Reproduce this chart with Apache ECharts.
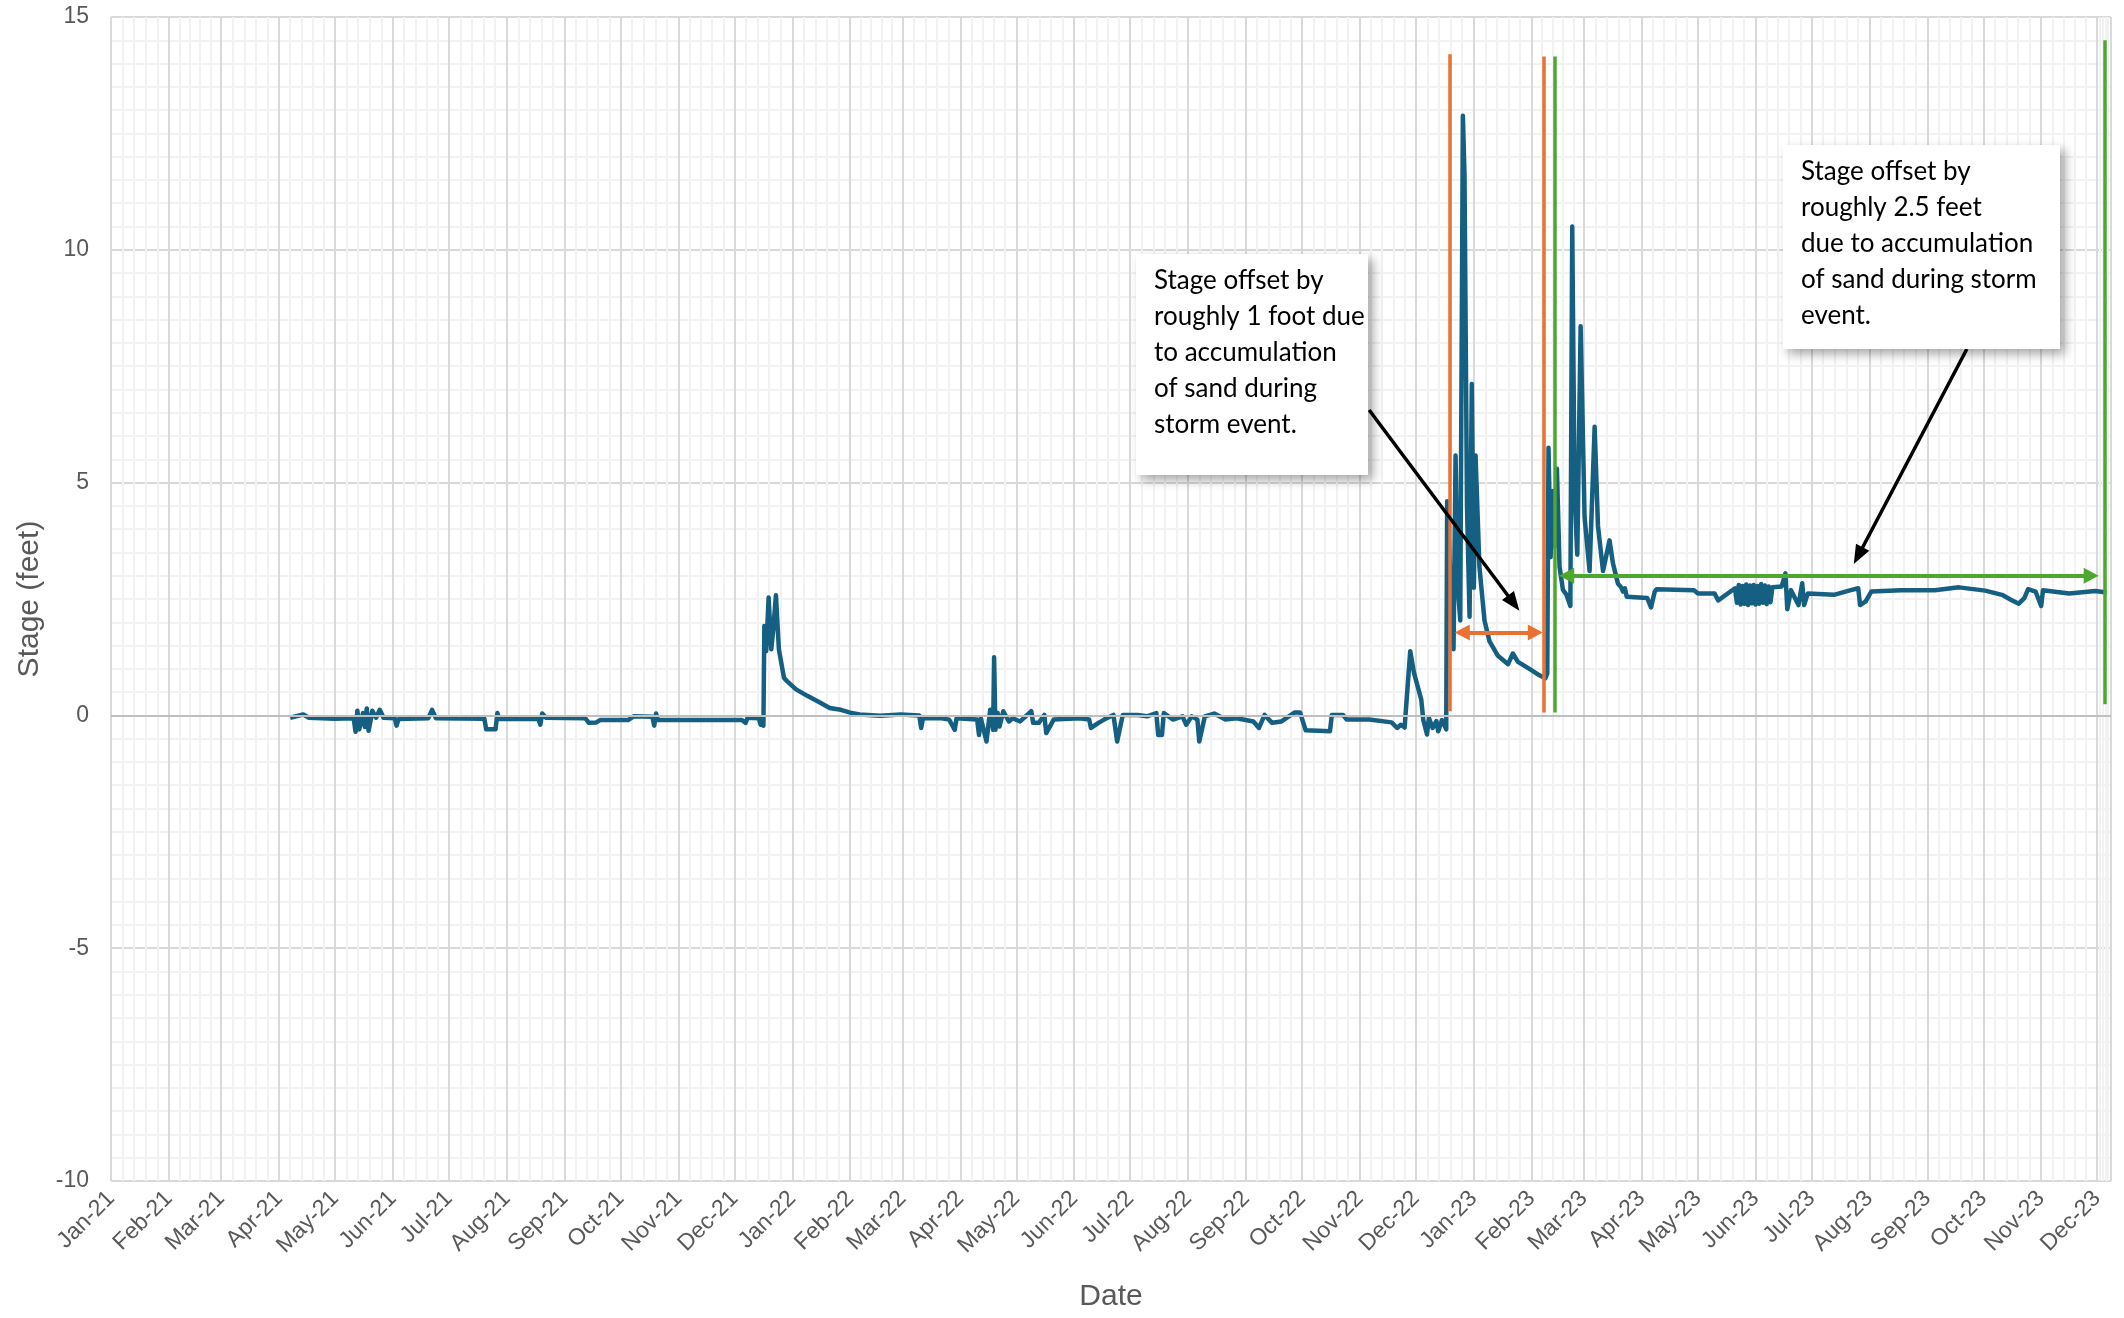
<!DOCTYPE html>
<html>
<head>
<meta charset="utf-8">
<script src="https://cdn.jsdelivr.net/npm/echarts@6/dist/echarts.min.js"></script>
<style>
  html, body { margin: 0; padding: 0; background: #fff; }
  #chart-wrapper { width: 2124px; height: 1318px; }
</style>
</head>
<body>
<div id="chart-wrapper"></div>
<script>
const monthNames = ['Jan', 'Feb', 'Mar', 'Apr', 'May', 'Jun', 'Jul', 'Aug', 'Sep', 'Oct', 'Nov', 'Dec']

// stage readings (feet)
const readings2021 = [
  ['2021-04-07', -0.05], ['2021-04-14', 0.02], ['2021-04-17', -0.05], ['2021-05-01', -0.07],
  ['2021-05-11', -0.06], ['2021-05-12', -0.35], ['2021-05-13', 0.1], ['2021-05-14', -0.3],
  ['2021-05-16', 0.05], ['2021-05-17', -0.25], ['2021-05-18', 0.15], ['2021-05-19', -0.33],
  ['2021-05-21', 0.1], ['2021-05-23', -0.05], ['2021-05-25', 0.12], ['2021-05-27', -0.05],
  ['2021-06-02', -0.06], ['2021-06-03', -0.22], ['2021-06-04', -0.08], ['2021-06-20', -0.06],
  ['2021-06-22', 0.12], ['2021-06-24', -0.06], ['2021-07-20', -0.07], ['2021-07-21', -0.3],
  ['2021-07-26', -0.3], ['2021-07-27', 0.05], ['2021-07-28', -0.08], ['2021-08-18', -0.08],
  ['2021-08-19', -0.2], ['2021-08-20', 0.04], ['2021-08-22', -0.05], ['2021-09-12', -0.06],
  ['2021-09-14', -0.16], ['2021-09-18', -0.15], ['2021-09-20', -0.1], ['2021-10-05', -0.1],
  ['2021-10-08', -0.02], ['2021-10-18', -0.03], ['2021-10-19', -0.22], ['2021-10-20', 0.04],
  ['2021-10-21', -0.1], ['2021-12-05', -0.1], ['2021-12-07', -0.16], ['2021-12-08', -0.05],
  ['2021-12-14', -0.06], ['2021-12-15', -0.2], ['2021-12-16 00:00', -0.05], ['2021-12-16 12:00', -0.22],
  ['2021-12-17 00:00', 1.92], ['2021-12-18 00:00', 1.38], ['2021-12-19 07:00', 2.53], ['2021-12-20 17:00', 1.42],
  ['2021-12-21 19:00', 1.85], ['2021-12-23 05:00', 2.58], ['2021-12-24 19:00', 1.42], ['2021-12-27 12:00', 0.81],
  ['2021-12-29', 0.74]
]

const readings2022 = [
  ['2022-01-03', 0.56], ['2022-01-09', 0.42], ['2022-01-16', 0.27], ['2022-01-21', 0.16],
  ['2022-01-27', 0.12], ['2022-02-01', 0.06], ['2022-02-06', 0.02], ['2022-02-17', -0.01],
  ['2022-02-28', 0.02], ['2022-03-05', 0.01], ['2022-03-10', 0], ['2022-03-11', -0.27],
  ['2022-03-12', -0.06], ['2022-03-22', -0.06], ['2022-03-26', -0.09], ['2022-03-29', -0.31],
  ['2022-03-30', -0.06], ['2022-04-10', -0.09], ['2022-04-11', -0.42], ['2022-04-12', -0.06],
  ['2022-04-15', -0.56], ['2022-04-17', 0.12], ['2022-04-18 14:00', -0.31], ['2022-04-19 02:00', 1.25],
  ['2022-04-19 19:00', -0.31], ['2022-04-21', 0.05], ['2022-04-22', -0.24], ['2022-04-24', 0.09],
  ['2022-04-27', -0.13], ['2022-04-29', -0.06], ['2022-05-03', -0.13], ['2022-05-06', -0.02],
  ['2022-05-09', 0.09], ['2022-05-10', -0.16], ['2022-05-13', -0.16], ['2022-05-16', 0.01],
  ['2022-05-17', -0.38], ['2022-05-21', -0.09], ['2022-06-04', -0.06], ['2022-06-09', -0.09],
  ['2022-06-10', -0.27], ['2022-06-14', -0.16], ['2022-06-17', -0.09], ['2022-06-22', 0.01],
  ['2022-06-24', -0.56], ['2022-06-27', 0.01], ['2022-07-05', 0.01], ['2022-07-10', -0.02],
  ['2022-07-15', 0.05], ['2022-07-16', -0.42], ['2022-07-18', -0.42], ['2022-07-19', 0.05],
  ['2022-07-24', -0.09], ['2022-07-29', -0.02], ['2022-07-31', -0.2], ['2022-08-03', -0.02],
  ['2022-08-06', -0.09], ['2022-08-07', -0.56], ['2022-08-10', -0.02], ['2022-08-15', 0.04],
  ['2022-08-21', -0.09], ['2022-08-27', -0.06], ['2022-09-05', -0.13], ['2022-09-08', -0.27],
  ['2022-09-11', 0.01], ['2022-09-15', -0.16], ['2022-09-20', -0.13], ['2022-09-27', 0.06],
  ['2022-09-30', 0.06], ['2022-10-03', -0.32], ['2022-10-16', -0.34], ['2022-10-17', 0.01],
  ['2022-10-23', 0.01], ['2022-10-25', -0.09], ['2022-11-06', -0.09], ['2022-11-18', -0.15],
  ['2022-11-21', -0.27], ['2022-11-23', -0.2], ['2022-11-25', -0.26], ['2022-11-28', 1.38],
  ['2022-11-30', 0.92], ['2022-12-03 22:00', 0.34], ['2022-12-05', -0.1], ['2022-12-07', -0.41],
  ['2022-12-08', -0.05], ['2022-12-10', -0.27], ['2022-12-12', -0.12], ['2022-12-13', -0.34],
  ['2022-12-15', -0.1], ['2022-12-17 07:00', -0.3], ['2022-12-17 19:00', 4.6], ['2022-12-21 05:00', 1.42],
  ['2022-12-22 07:00', 5.58], ['2022-12-23 12:00', 2.74], ['2022-12-24 19:00', 2.04], ['2022-12-26 05:00', 12.88],
  ['2022-12-27 02:00', 11.6], ['2022-12-28 10:00', 4.5], ['2022-12-29 19:00', 2.12], ['2022-12-31 00:00', 7.12]
]

const readings2023 = [
  ['2023-01-01 02:00', 2.74], ['2023-01-02 00:00', 5.58], ['2023-01-04 02:00', 3.19], ['2023-01-06 19:00', 2.04],
  ['2023-01-09 12:00', 1.59], ['2023-01-14', 1.28], ['2023-01-19 10:00', 1.1], ['2023-01-22', 1.33],
  ['2023-01-24 17:00', 1.15], ['2023-01-30', 1.02], ['2023-02-04 10:00', 0.88], ['2023-02-08 10:00', 0.8],
  ['2023-02-09 10:00', 0.9], ['2023-02-10 02:00', 5.75], ['2023-02-11 05:00', 3.4], ['2023-02-12 12:00', 4.82],
  ['2023-02-13 10:00', 3.63], ['2023-02-14 14:00', 5.3], ['2023-02-16 00:00', 3.19], ['2023-02-17 19:00', 2.7],
  ['2023-02-19 14:00', 2.6], ['2023-02-21 19:00', 2.35], ['2023-02-22 19:00', 10.5], ['2023-02-24 02:00', 4.7],
  ['2023-02-25 12:00', 3.45], ['2023-02-27 07:00', 8.36], ['2023-03-01 10:00', 4.25], ['2023-03-04 02:00', 3.1],
  ['2023-03-06 19:00', 6.2], ['2023-03-08 14:00', 4.07], ['2023-03-11 07:00', 3.1], ['2023-03-14 19:00', 3.76],
  ['2023-03-16 14:00', 3.27], ['2023-03-19 07:00', 2.83], ['2023-03-21', 2.75], ['2023-03-22', 2.66],
  ['2023-03-23', 2.73], ['2023-03-24', 2.55], ['2023-04-04', 2.52], ['2023-04-06', 2.32],
  ['2023-04-08', 2.66], ['2023-04-09', 2.71], ['2023-04-29', 2.69], ['2023-05-01', 2.62],
  ['2023-05-10', 2.62], ['2023-05-12', 2.47], ['2023-05-13', 2.45], ['2023-05-21', 2.73],
  ['2023-05-22', 2.42], ['2023-05-23', 2.8], ['2023-05-24', 2.38], ['2023-05-25', 2.78],
  ['2023-05-26', 2.4], ['2023-05-27', 2.81], ['2023-05-28', 2.37], ['2023-05-29', 2.79],
  ['2023-05-30', 2.41], ['2023-05-31', 2.8], ['2023-06-01', 2.38], ['2023-06-02', 2.78],
  ['2023-06-03', 2.4], ['2023-06-04', 2.82], ['2023-06-05', 2.42], ['2023-06-06', 2.79],
  ['2023-06-07', 2.39], ['2023-06-08', 2.77], ['2023-06-09', 2.43], ['2023-06-10', 2.75],
  ['2023-06-11', 2.78], ['2023-06-15', 2.77], ['2023-06-17', 3.05], ['2023-06-18', 2.28],
  ['2023-06-20', 2.69], ['2023-06-24', 2.37], ['2023-06-26', 2.84], ['2023-06-27', 2.37],
  ['2023-06-29', 2.62], ['2023-07-13', 2.59], ['2023-07-22', 2.69], ['2023-07-26', 2.73],
  ['2023-07-27', 2.37], ['2023-07-30', 2.45], ['2023-08-02', 2.66], ['2023-08-18', 2.69],
  ['2023-09-05', 2.69], ['2023-09-18', 2.75], ['2023-10-02', 2.68], ['2023-10-11', 2.59],
  ['2023-10-16', 2.48], ['2023-10-20', 2.4], ['2023-10-23', 2.52], ['2023-10-25', 2.71],
  ['2023-10-29', 2.66], ['2023-11-01', 2.35], ['2023-11-02', 2.69], ['2023-11-16', 2.62],
  ['2023-11-30', 2.67], ['2023-12-06', 2.64]
]

// annotation dates
const sandOneFootDates = ['2022-12-18 22:00', '2023-02-07 10:00']
const sandTwoHalfFeetDates = ['2023-02-13 07:00', '2023-12-05 02:00']
const oneFootSpan = [['2022-12-25 22:00', 1.78], ['2023-02-03 00:00', 1.78]]
const twoHalfFeetSpan = [['2023-02-19 19:00', 3.0], ['2023-11-27 19:00', 3.0]]
const noteArrows = [
  [['2022-11-06 00:00', 6.56], ['2023-01-22 10:00', 2.41]],
  [['2023-09-22 05:00', 7.87], ['2023-07-26 00:00', 3.43]]
]
const noteTexts = [
  'Stage offset by\nroughly 1 foot due\nto accumulation\nof sand during\nstorm event.',
  'Stage offset by\nroughly 2.5 feet\ndue to accumulation\nof sand during storm\nevent.'
]

const DAY = 24 * 3600 * 1000
const axisFont = 'Liberation Sans'
const toTime = s => echarts.time.parse(s).getTime()

const fmtMonth = value => {
  const d = new Date(value)
  return monthNames[d.getMonth()] + '-' + String(d.getFullYear()).slice(2)
}

const vLine = (date, top, bottom, color) => [
  { coord: [toTime(date), top], symbol: 'none', lineStyle: { color, width: 3.5, type: 'solid' } },
  { coord: [toTime(date), bottom], symbol: 'none' }
]

const spanArrow = (span, color, size) => [
  { coord: [toTime(span[0][0]), span[0][1]], symbol: 'triangle', symbolSize: size, lineStyle: { color, width: 4, type: 'solid' } },
  { coord: [toTime(span[1][0]), span[1][1]], symbol: 'triangle', symbolSize: size }
]

const noteArrow = pts => [
  { coord: [toTime(pts[0][0]), pts[0][1]], symbol: 'none', lineStyle: { color: '#000', width: 3.5, type: 'solid' } },
  { coord: [toTime(pts[1][0]), pts[1][1]], symbol: 'triangle', symbolSize: [15, 19] }
]

const noteBox = (left, top, width, height, text) => ({
  type: 'group',
  left,
  top,
  z: 100,
  children: [
    {
      type: 'rect',
      z: 100,
      shape: { x: 0, y: 0, width, height },
      style: { fill: '#fff', shadowBlur: 10, shadowOffsetX: 5, shadowOffsetY: 5, shadowColor: 'rgba(0,0,0,0.35)' }
    },
    {
      type: 'text',
      z: 101,
      x: 18,
      y: 9,
      style: { text, font: '26px Lato', lineHeight: 36, fill: '#000' }
    }
  ]
})

const chartDom = document.getElementById('chart-wrapper')
const chart = echarts.init(chartDom, null, { renderer: 'canvas' })

const option = {
  backgroundColor: '#fff',
  animation: false,
  grid: { left: 111, right: 13, top: 17, bottom: 137 },
  xAxis: {
    type: 'time',
    min: '2021-01-01 00:00',
    max: '2023-12-08 10:00',
    minInterval: 30 * DAY,
    maxInterval: 30 * DAY,
    name: 'Date',
    nameLocation: 'middle',
    nameGap: 101,
    nameTextStyle: { fontSize: 30, color: '#595959', fontFamily: axisFont },
    axisLine: { show: false },
    axisTick: { show: false },
    axisLabel: {
      rotate: 45,
      fontSize: 23,
      fontWeight: 'normal',
      color: '#595959',
      fontFamily: axisFont,
      margin: 14,
      showMaxLabel: false,
      formatter: fmtMonth
    },
    splitLine: { show: true, lineStyle: { color: '#d9d9d9', width: 2 } },
    minorTick: { show: false, splitNumber: 5 },
    minorSplitLine: { show: true, lineStyle: { color: '#f2f2f2', width: 2 } }
  },
  yAxis: {
    type: 'value',
    min: -10,
    max: 15,
    interval: 5,
    name: 'Stage (feet)',
    nameLocation: 'middle',
    nameGap: 66,
    nameTextStyle: { fontSize: 30, color: '#595959', fontFamily: axisFont },
    axisLine: { show: false },
    axisTick: { show: false },
    axisLabel: { fontSize: 23, color: '#595959', fontFamily: axisFont, margin: 22 },
    splitLine: { lineStyle: { color: '#d9d9d9', width: 2 } },
    minorTick: { show: false, splitNumber: 10 },
    minorSplitLine: { show: true, lineStyle: { color: '#f2f2f2', width: 2 } }
  },
  series: [
    {
      name: 'zero',
      type: 'line',
      data: [],
      z: 1,
      markLine: {
        silent: true,
        symbol: 'none',
        label: { show: false },
        lineStyle: { color: '#bfbfbf', width: 2, type: 'solid' },
        data: [{ yAxis: 0 }]
      }
    },
    {
      name: 'Stage',
      type: 'line',
      z: 2,
      showSymbol: false,
      symbol: 'none',
      lineStyle: { color: '#156082', width: 4.5, join: 'round' },
      data: [...readings2021, ...readings2022, ...readings2023]
    },
    {
      name: 'notes',
      type: 'line',
      data: [],
      z: 3,
      markLine: {
        silent: true,
        label: { show: false },
        emphasis: { disabled: true },
        data: [
          vLine(sandOneFootDates[0], 14.2, 0.09, '#e97132'),
          vLine(sandOneFootDates[1], 14.15, 0.06, '#e97132'),
          vLine(sandTwoHalfFeetDates[0], 14.15, 0.06, '#4ea72e'),
          vLine(sandTwoHalfFeetDates[1], 14.5, 0.24, '#4ea72e'),
          spanArrow(oneFootSpan, '#e97132', [16, 15]),
          spanArrow(twoHalfFeetSpan, '#4ea72e', [16, 15]),
          noteArrow(noteArrows[0]),
          noteArrow(noteArrows[1])
        ]
      }
    }
  ],
  graphic: [
    noteBox(1136, 254, 232, 221, noteTexts[0]),
    noteBox(1783, 145, 277, 204, noteTexts[1])
  ]
}

chart.setOption(option)
</script>
</body>
</html>
